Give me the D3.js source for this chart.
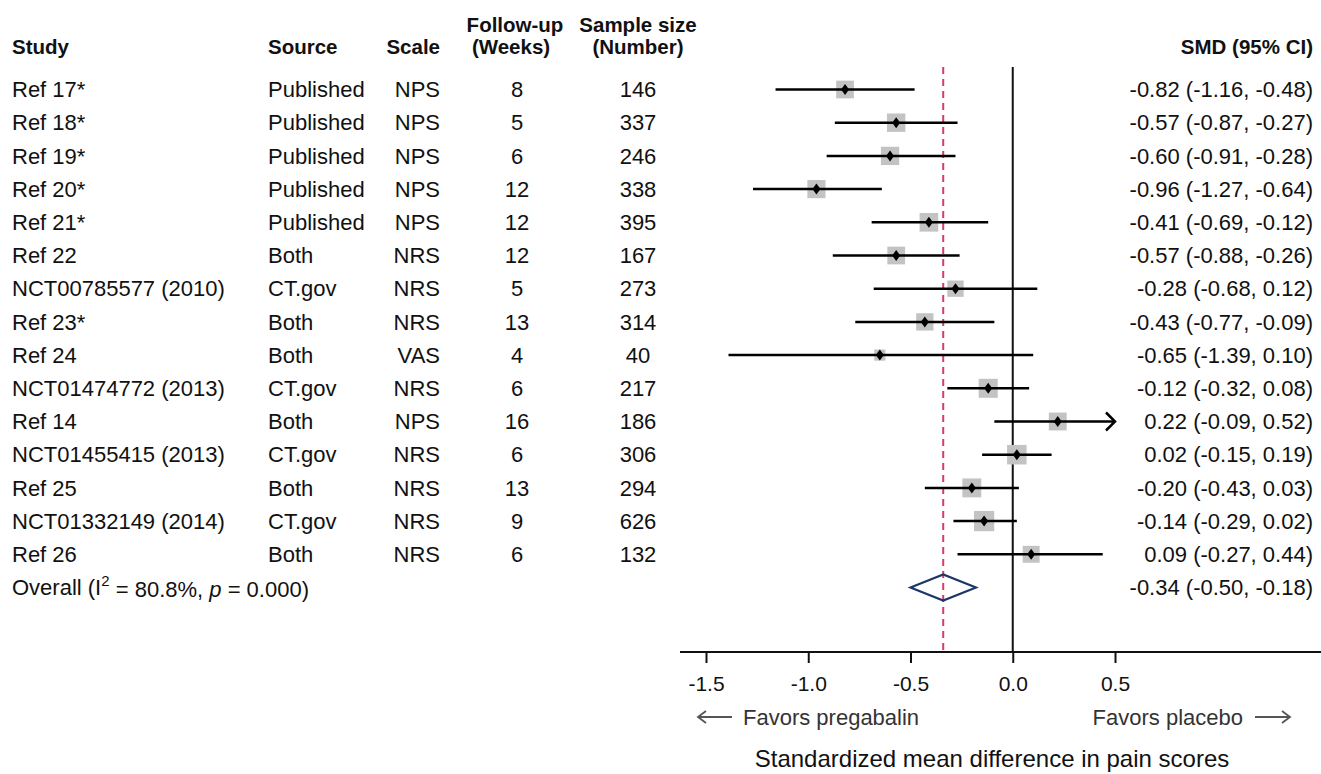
<!DOCTYPE html>
<html><head><meta charset="utf-8">
<script src="https://cdn.jsdelivr.net/npm/d3@7"></script>
<style>body{margin:0;background:#fff}svg{display:block}text{font-family:"Liberation Sans",Arial,Helvetica,sans-serif}</style>
</head><body><svg id="c" width="1321" height="774"></svg>
<script>
const studies = ["Ref 17*","Ref 18*","Ref 19*","Ref 20*","Ref 21*","Ref 22","NCT00785577 (2010)","Ref 23*","Ref 24","NCT01474772 (2013)","Ref 14","NCT01455415 (2013)","Ref 25","NCT01332149 (2014)","Ref 26"];
const sources = ["Published","Published","Published","Published","Published","Both","CT.gov","Both","Both","CT.gov","Both","CT.gov","Both","CT.gov","Both"];
const scales = ["NPS","NPS","NPS","NPS","NPS","NRS","NRS","NRS","VAS","NRS","NPS","NRS","NRS","NRS","NRS"];
const followUp = [8,5,6,12,12,12,5,13,4,6,16,6,13,9,6];
const sampleSize = [146,337,246,338,395,167,273,314,40,217,186,306,294,626,132];
const smd = [-0.82,-0.57,-0.60,-0.96,-0.41,-0.57,-0.28,-0.43,-0.65,-0.12,0.22,0.02,-0.20,-0.14,0.09];
const lower = [-1.16,-0.87,-0.91,-1.27,-0.69,-0.88,-0.68,-0.77,-1.39,-0.32,-0.09,-0.15,-0.43,-0.29,-0.27];
const upper = [-0.48,-0.27,-0.28,-0.64,-0.12,-0.26,0.12,-0.09,0.10,0.08,0.52,0.19,0.03,0.02,0.44];
const weights = [6.6,7.1,7.0,6.9,7.3,6.6,5.6,6.3,2.6,7.6,6.7,8.0,7.5,8.6,6.0];
const overall = {smd:-0.34, lower:-0.50, upper:-0.18, i2:"80.8%", p:"0.000"};
const ticks = [-1.5,-1.0,-0.5,0.0,0.5];

const svg = d3.select("#c");
const x = d3.scaleLinear().domain([-1.5,0.5]).range([706,1115]);
const y = d3.scaleLinear().domain([0,15]).range([89.5,587.5]);
const fmt = v => d3.format(".2f")(v).replace("−","-");
const FS = 22, HS = 20.5;

// headers
const hdr = svg.append("g").attr("font-weight","bold").attr("font-size",HS).attr("fill","#111");
hdr.append("text").attr("x",12).attr("y",47).attr("dy","0.35em").text("Study");
hdr.append("text").attr("x",268).attr("y",47).attr("dy","0.35em").text("Source");
hdr.append("text").attr("x",440).attr("y",47).attr("dy","0.35em").attr("text-anchor","end").text("Scale");
hdr.append("text").attr("x",515).attr("y",25).attr("dy","0.35em").attr("text-anchor","middle").text("Follow-up");
hdr.append("text").attr("x",511).attr("y",47).attr("dy","0.35em").attr("text-anchor","middle").text("(Weeks)");
hdr.append("text").attr("x",638).attr("y",25).attr("dy","0.35em").attr("text-anchor","middle").text("Sample size");
hdr.append("text").attr("x",638).attr("y",47).attr("dy","0.35em").attr("text-anchor","middle").text("(Number)");
hdr.append("text").attr("x",1313).attr("y",47).attr("dy","0.35em").attr("text-anchor","end").text("SMD (95% CI)");

const rows = svg.append("g").attr("font-size",FS).attr("fill","#111");
const idx = d3.range(studies.length);
rows.selectAll(".st").data(idx).join("text").attr("x",12).attr("y",i=>y(i)).attr("dy","0.35em").text(i=>studies[i]);
rows.selectAll(".so").data(idx).join("text").attr("x",268).attr("y",i=>y(i)).attr("dy","0.35em").text(i=>sources[i]);
rows.selectAll(".sc").data(idx).join("text").attr("x",440).attr("y",i=>y(i)).attr("dy","0.35em").attr("text-anchor","end").text(i=>scales[i]);
rows.selectAll(".fu").data(idx).join("text").attr("x",517).attr("y",i=>y(i)).attr("dy","0.35em").attr("text-anchor","middle").text(i=>followUp[i]);
rows.selectAll(".ss").data(idx).join("text").attr("x",638).attr("y",i=>y(i)).attr("dy","0.35em").attr("text-anchor","middle").text(i=>sampleSize[i]);
rows.selectAll(".ci").data(idx).join("text").attr("x",1313).attr("y",i=>y(i)).attr("dy","0.35em").attr("text-anchor","end")
  .text(i=>`${fmt(smd[i])} (${fmt(lower[i])}, ${fmt(upper[i])})`);

// overall label
const ov = rows.append("text").attr("x",12).attr("y",y(15)).attr("dy","0.35em");
ov.append("tspan").text("Overall (I");
ov.append("tspan").attr("font-size",15).attr("dy","-0.6em").text("2");
ov.append("tspan").attr("dy","0.5em").text(" = " + overall.i2 + ", ");
ov.append("tspan").attr("font-style","italic").text("p");
ov.append("tspan").text(" = " + overall.p + ")");
rows.append("text").attr("x",1313).attr("y",y(15)).attr("dy","0.35em").attr("text-anchor","end")
  .text(`${fmt(overall.smd)} (${fmt(overall.lower)}, ${fmt(overall.upper)})`);

// axis
const axisY = 652;
svg.append("line").attr("x1",680).attr("x2",1321).attr("y1",axisY).attr("y2",axisY).attr("stroke","#111").attr("stroke-width",2);
const ax = svg.append("g").attr("transform",`translate(0,${axisY})`)
  .call(d3.axisBottom(x).tickValues(ticks).tickSize(11).tickSizeOuter(0).tickPadding(13).tickFormat(v=>d3.format(".1f")(v).replace("−","-")));
ax.select(".domain").remove();
ax.selectAll(".tick line").attr("stroke","#111").attr("stroke-width",2);
ax.selectAll(".tick text").attr("font-size",21).attr("fill","#111").attr("font-family","Liberation Sans, Arial, sans-serif");

// zero line and overall dashed line
svg.append("line").attr("x1",x(0)).attr("x2",x(0)).attr("y1",67).attr("y2",axisY).attr("stroke","#111").attr("stroke-width",2);
svg.append("line").attr("x1",x(overall.smd)).attr("x2",x(overall.smd)).attr("y1",67).attr("y2",axisY)
  .attr("stroke","#d93a6a").attr("stroke-width",2).attr("stroke-dasharray","7,5");

// boxes, CI lines, points
const plot = svg.append("g");
const boxSide = w => 6.9*Math.sqrt(w);
plot.selectAll(".box").data(idx).join("rect")
  .attr("x",i=>x(smd[i])-boxSide(weights[i])/2).attr("y",i=>y(i)-boxSide(weights[i])/2)
  .attr("width",i=>boxSide(weights[i])).attr("height",i=>boxSide(weights[i])).attr("fill","#c3c3c3");
const clipHi = x.domain()[1];
plot.selectAll(".cil").data(idx).join("line")
  .attr("x1",i=>x(lower[i])).attr("x2",i=>x(Math.min(upper[i],clipHi))).attr("y1",i=>y(i)).attr("y2",i=>y(i))
  .attr("stroke","#000").attr("stroke-width",2.5);
plot.selectAll(".arr").data(idx.filter(i=>upper[i]>clipHi)).join("path")
  .attr("d",i=>{const tx=x(clipHi),ty=y(i);return `M${tx-9},${ty-9}L${tx},${ty}L${tx-9},${ty+9}`;})
  .attr("fill","none").attr("stroke","#000").attr("stroke-width",2.5);
plot.selectAll(".pt").data(idx).join("path")
  .attr("d",i=>{const cx=x(smd[i]),cy=y(i);return `M${cx},${cy-5.5}L${cx+4},${cy}L${cx},${cy+5.5}L${cx-4},${cy}Z`;})
  .attr("fill","#000");

// overall diamond
const dy = y(15);
svg.append("path").attr("d",`M${x(overall.lower)},${dy}L${x(overall.smd)},${dy-13}L${x(overall.upper)},${dy}L${x(overall.smd)},${dy+13}Z`)
  .attr("fill","none").attr("stroke","#1d3868").attr("stroke-width",2.2);

// favors labels
const fav = svg.append("g").attr("font-size",22).attr("fill","#333");
fav.append("text").attr("x",743).attr("y",717).attr("dy","0.35em").text("Favors pregabalin");
fav.append("text").attr("x",1243).attr("y",717).attr("dy","0.35em").attr("text-anchor","end").text("Favors placebo");
const arrow = (x1,x2,yy,dir)=>{
  const g = svg.append("g").attr("stroke","#555").attr("stroke-width",1.8).attr("fill","none");
  g.append("line").attr("x1",x1).attr("x2",x2).attr("y1",yy).attr("y2",yy);
  const tip = dir<0?x1:x2;
  g.append("path").attr("d",`M${tip-dir*8},${yy-6}L${tip},${yy}L${tip-dir*8},${yy+6}`);
};
arrow(698,732,717,-1);
arrow(1255,1290,717,1);
svg.append("text").attr("x",992).attr("y",759).attr("dy","0.35em").attr("text-anchor","middle").attr("font-size",24).attr("fill","#111")
  .text("Standardized mean difference in pain scores");
</script></body></html>
